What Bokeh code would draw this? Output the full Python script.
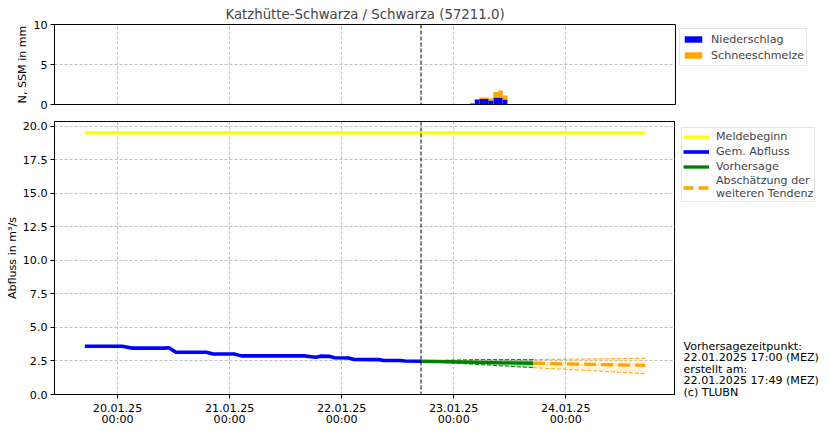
from datetime import datetime
from bokeh.plotting import figure
from bokeh.layouts import column, row
from bokeh.models import (Range1d, FixedTicker, Span, Legend, LegendItem, Label,
                          PrintfTickFormatter)
from bokeh.embed import file_html
from bokeh.resources import INLINE

FMT = "%d.%m.%Y %H:%M"
EPOCH = datetime(1970, 1, 1)


def ms(s):
    return (datetime.strptime(s, FMT) - EPOCH).total_seconds() * 1000.0


HOUR = 3600 * 1000.0
FONT = "DejaVu Sans"
FS = "11.1px"

# ---------------- data ----------------
title = "Katzhütte-Schwarza / Schwarza (57211.0)"
x_start = "19.01.2025 10:30"
x_end = "24.01.2025 23:30"
forecast_time = "22.01.2025 17:00"

tick_dates = ["20.01.2025 00:00", "21.01.2025 00:00", "22.01.2025 00:00",
              "23.01.2025 00:00", "24.01.2025 00:00"]
tick_labels = ["20.01.25\n00:00", "21.01.25\n00:00", "22.01.25\n00:00",
               "23.01.25\n00:00", "24.01.25\n00:00"]

bar_times = ["23.01.2025 04:00", "23.01.2025 05:00", "23.01.2025 06:00",
             "23.01.2025 07:00", "23.01.2025 08:00", "23.01.2025 09:00",
             "23.01.2025 10:00", "23.01.2025 11:00"]
niederschlag = [0.12, 0.62, 0.70, 0.70, 0.50, 0.87, 0.87, 0.62]
schneeschmelze = [0.00, 0.00, 0.17, 0.17, 0.25, 0.68, 0.88, 0.50]

melde_times = ["19.01.2025 17:00", "24.01.2025 17:00"]
meldebeginn = [19.5, 19.5]

obs_times = ["19.01.2025 17:00", "20.01.2025 01:00", "20.01.2025 03:00",
             "20.01.2025 10:00", "20.01.2025 11:00", "20.01.2025 12:30",
             "20.01.2025 19:00", "20.01.2025 20:30", "21.01.2025 01:00",
             "21.01.2025 02:30", "21.01.2025 16:00", "21.01.2025 17:30",
             "21.01.2025 18:30", "21.01.2025 19:30", "21.01.2025 21:30",
             "21.01.2025 22:30", "22.01.2025 01:30", "22.01.2025 02:30",
             "22.01.2025 08:00", "22.01.2025 09:00", "22.01.2025 12:30",
             "22.01.2025 13:30", "22.01.2025 17:00"]
gem_abfluss = [3.60, 3.60, 3.46, 3.46, 3.48, 3.15, 3.15, 3.02, 3.02, 2.88,
               2.88, 2.82, 2.78, 2.86, 2.84, 2.74, 2.72, 2.62, 2.60, 2.53,
               2.53, 2.50, 2.48]

fc_times = ["22.01.2025 17:00", "22.01.2025 23:00", "23.01.2025 05:00",
            "23.01.2025 11:00", "23.01.2025 17:00"]
vorhersage = [2.48, 2.44, 2.40, 2.36, 2.33]
vorhersage_hi = [2.48, 2.56, 2.60, 2.60, 2.60]
vorhersage_lo = [2.48, 2.36, 2.24, 2.12, 2.00]

tr_times = ["23.01.2025 17:00", "24.01.2025 05:00", "24.01.2025 17:00"]
tendenz = [2.33, 2.25, 2.17]
tendenz_hi = [2.60, 2.65, 2.70]
tendenz_lo = [2.00, 1.78, 1.55]

y_ticks = [0.0, 2.5, 5.0, 7.5, 10.0, 12.5, 15.0, 17.5, 20.0]
info_text = ("Vorhersagezeitpunkt:\n22.01.2025 17:00 (MEZ)\nerstellt am:\n"
             "22.01.2025 17:49 (MEZ)\n(c) TLUBN")

# ---------------- helpers ----------------
FRAME_W = 621
SIDE_W = 154
xr = Range1d(ms(x_start), ms(x_end))
xt = [ms(d) for d in tick_dates]
overrides = {ms(d): l for d, l in zip(tick_dates, tick_labels)}

melde_x = [ms(t) for t in melde_times]
obs_x = [ms(t) for t in obs_times]
fx = [ms(t) for t in fc_times]
tx = [ms(t) for t in tr_times]
bx = [ms(t) for t in bar_times]
tops = [a + b for a, b in zip(niederschlag, schneeschmelze)]


def style(p):
    p.outline_line_color = "black"
    p.outline_line_alpha = 1.0
    for ax in p.axis:
        ax.axis_line_color = "black"
        ax.major_tick_line_color = "black"
        ax.major_tick_out = 4
        ax.major_tick_in = 0
        ax.minor_tick_line_color = None
        ax.major_label_text_font = FONT
        ax.major_label_text_font_size = FS
        ax.major_label_text_color = "black"
        ax.major_label_text_line_height = 0.88
        ax.major_label_standoff = 3
        ax.axis_label_text_font = FONT
        ax.axis_label_text_font_size = FS
        ax.axis_label_text_font_style = "normal"
        ax.axis_label_text_color = "black"
        ax.axis_label_standoff = 1
    for g in p.grid:
        g.grid_line_color = "#b0b0b0"
        g.grid_line_dash = "3 2"
        g.grid_line_width = 0.8
    p.xaxis.ticker = FixedTicker(ticks=xt)
    p.xaxis.major_label_overrides = overrides
    p.xgrid.ticker = FixedTicker(ticks=xt)
    p.add_layout(Span(location=ms(forecast_time), dimension="height",
                      line_color="black", line_dash="4 2", line_width=1))


def legend_style(lg):
    lg.label_text_font = FONT
    lg.label_text_font_size = FS
    lg.label_text_line_height = 0.92
    lg.border_line_color = "#cccccc"
    lg.border_line_width = 1
    lg.padding = 2
    lg.spacing = 0
    lg.label_standoff = 7
    lg.location = "top_left"


# ---------------- top panel ----------------
p1 = figure(frame_width=FRAME_W, frame_height=80, output_backend="svg",
            toolbar_location=None, x_range=xr, y_range=Range1d(0, 10),
            min_border_left=54, min_border_right=SIDE_W,
            min_border_top=24, min_border_bottom=8)
p1.title.text = title
p1.title.align = "center"
p1.title.text_font = FONT
p1.title.text_font_size = "13.3px"
p1.title.text_font_style = "normal"
p1.title.standoff = 6
p1.yaxis.ticker = FixedTicker(ticks=[0, 5, 10])
p1.yaxis.axis_label = "N, SSM in mm"
style(p1)
p1.xaxis.visible = False

r_n = p1.vbar(x=bx, width=HOUR, top=niederschlag, bottom=0,
              fill_color="#0000ff", line_color=None)
r_s = p1.vbar(x=bx, width=HOUR, top=tops, bottom=niederschlag,
              fill_color="#ffa500", line_color=None)
lg1 = Legend(items=[LegendItem(label="Niederschlag", renderers=[r_n]),
                    LegendItem(label="Schneeschmelze", renderers=[r_s])])
legend_style(lg1)
lg1.margin = 4
lg1.label_height = 16
lg1.glyph_width = 22
lg1.glyph_height = 8
p1.add_layout(lg1, "right")

# ---------------- bottom panel ----------------
p2 = figure(frame_width=FRAME_W, frame_height=273, output_backend="svg",
            toolbar_location=None, x_range=xr, y_range=Range1d(0, 20.35),
            min_border_left=54, min_border_right=0,
            min_border_top=8, min_border_bottom=38)
p2.yaxis.ticker = FixedTicker(ticks=y_ticks)
p2.yaxis.formatter = PrintfTickFormatter(format="%.1f")
p2.yaxis.axis_label = "Abfluss in m³/s"
style(p2)

p2.varea(x=fx, y1=vorhersage_lo, y2=vorhersage_hi, fill_color="#008000",
         fill_alpha=0.3)
p2.line(fx, vorhersage_hi, line_color="#008000", line_dash="4 2", line_width=1)
p2.line(fx, vorhersage_lo, line_color="#008000", line_dash="4 2", line_width=1)
p2.varea(x=tx, y1=tendenz_lo, y2=tendenz_hi, fill_color="#ffa500",
         fill_alpha=0.15)
p2.line(tx, tendenz_hi, line_color="#ffa500", line_dash="4 2", line_width=1)
p2.line(tx, tendenz_lo, line_color="#ffa500", line_dash="4 2", line_width=1)

MELDE = dict(line_color="#ffff00", line_width=3.3)
OBS = dict(line_color="#0000ff", line_width=3.6)
VOR = dict(line_color="#008000", line_width=3.3)
TEN = dict(line_color="#ffa500", line_width=3.3, line_dash="12 5")

p2.line(melde_x, meldebeginn, **MELDE)
p2.line(obs_x, gem_abfluss, **OBS)
p2.line(fx, vorhersage, **VOR)
p2.line(tx, tendenz, **TEN)

# side area (legend + info text) next to the bottom panel
TOP2 = 9
s2 = figure(frame_width=SIDE_W, frame_height=319 - TOP2,
            output_backend="svg", toolbar_location=None,
            x_range=Range1d(0, SIDE_W), y_range=Range1d(319 - TOP2, 0),
            x_axis_type=None, y_axis_type=None,
            min_border_left=0, min_border_right=0,
            min_border_top=TOP2, min_border_bottom=0)
s2.outline_line_color = None
s2.xgrid.visible = False
s2.ygrid.visible = False

# legend proxies: same series, lying outside this side area's range
k_m = s2.line(melde_x, meldebeginn, **MELDE)
k_o = s2.line(obs_x, gem_abfluss, **OBS)
k_v = s2.line(fx, vorhersage, **VOR)
k_t = s2.line(tx, tendenz, line_color="#ffa500", line_width=3.3,
              line_dash="10 5")
lg2 = Legend(items=[LegendItem(label="Meldebeginn", renderers=[k_m]),
                    LegendItem(label="Gem. Abfluss", renderers=[k_o]),
                    LegendItem(label="Vorhersage", renderers=[k_v]),
                    LegendItem(label="Abschätzung der\nweiteren Tendenz",
                               renderers=[k_t])])
legend_style(lg2)
lg2.margin = 6
lg2.padding = 1
lg2.label_height = 15
lg2.glyph_width = 26
lg2.glyph_height = 15
s2.add_layout(lg2)

info = Label(x=8, y=218, text=info_text, text_font=FONT, text_font_size=FS,
             text_color="black", text_baseline="top", text_align="left",
             text_line_height=0.885)
s2.add_layout(info)

layout = column(p1, row(p2, s2, spacing=0), spacing=0)
open("out.html", "w").write(file_html(layout, INLINE))
